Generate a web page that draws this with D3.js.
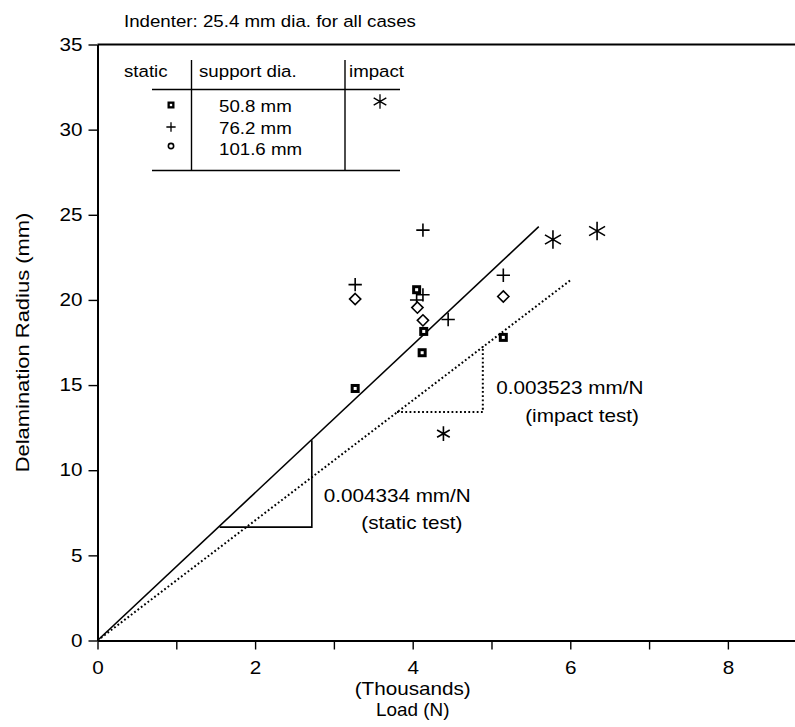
<!DOCTYPE html>
<html><head><meta charset="utf-8">
<script src="https://cdn.jsdelivr.net/npm/d3@7"></script>
<style>
body{margin:0;background:#fff}
svg text{font-family:"Liberation Sans",Arial,Helvetica,sans-serif;fill:#000}
</style>
</head><body>
<svg id="chart" width="795" height="727"></svg>
<script>
// ---- data (load in thousands of N, radius in mm) ----
const squareLoad   = [3.27, 4.05, 4.14, 4.12, 5.15];
const squareRadius = [14.8, 20.6, 18.15, 16.9, 17.8];
const plusLoad     = [3.27, 4.13, 4.13, 4.05, 4.45, 5.15];
const plusRadius   = [20.9, 24.1, 20.3, 20.0, 18.85, 21.45];
const diamondLoad  = [3.27, 4.06, 4.13, 5.15];
const diamondRadius= [20.05, 19.55, 18.8, 20.2];
const impactLoad   = [4.39, 5.78, 6.34];
const impactRadius = [12.15, 23.55, 24.05];
const impactSize   = [150, 240, 240];
const staticFit    = [[0, 0], [5.6, 24.3]];
const impactFit    = [[0, 0], [6.0, 21.15]];
const staticTri    = [[1.55, 6.66], [2.72, 6.66], [2.72, 11.76]];
const impactTri    = [[3.80, 13.42], [4.89, 13.42], [4.89, 17.3]];
const xTickValues  = [0, 1, 2, 3, 4, 5, 6, 7, 8];
const yTickValues  = [0, 5, 10, 15, 20, 25, 30, 35];
const legendRows   = ["50.8 mm", "76.2 mm", "101.6 mm"];

const svg = d3.select("#chart");
const x = d3.scaleLinear().domain([0, 8.9]).range([97.5, 798.8]);
const y = d3.scaleLinear().domain([0, 35]).range([640.5, 44.5]);
const FS = 18;
const SX = 1.15; // horizontal widening of the scanned lettering

function wtext(g, px, py, str, anchor, opt) {
  opt = opt || {};
  const sx = opt.sx || SX, fs = opt.fs || FS;
  return g.append("text")
    .attr("transform", `translate(${px},${py})${opt.rot ? ` rotate(${opt.rot})` : ""} scale(${sx},1)`)
    .attr("text-anchor", anchor || "start").attr("font-size", fs).text(str);
}

// axes
const xAxis = svg.append("g").attr("transform", `translate(0,${y(0)})`)
  .call(d3.axisBottom(x).tickValues(xTickValues).tickSize(9).tickSizeOuter(0).tickPadding(12)
    .tickFormat(d => d % 2 === 0 ? d : ""));
const yAxis = svg.append("g").attr("transform", `translate(${x(0)},0)`)
  .call(d3.axisLeft(y).tickValues(yTickValues).tickSize(9).tickSizeOuter(0).tickPadding(6));
[xAxis, yAxis].forEach(a => {
  a.selectAll("path.domain").attr("stroke", "#000").attr("stroke-width", 2);
  a.selectAll(".tick line").attr("stroke", "#000").attr("stroke-width", 1.4);
  a.selectAll(".tick text").attr("font-size", FS).attr("font-family", '"Liberation Sans",Arial,sans-serif').attr("fill", "#000");
});
xAxis.selectAll(".tick text").attr("transform", `scale(${SX},1)`);
yAxis.selectAll(".tick text").attr("x", -15 / SX).attr("transform", `scale(${SX},1)`);

// top frame line
svg.append("line").attr("x1", x(0)).attr("x2", 795).attr("y1", y(35)).attr("y2", y(35))
  .attr("stroke", "#000").attr("stroke-width", 2);

// titles
wtext(svg, 124, 27, "Indenter: 25.4 mm dia. for all cases", "start", {fs: 17, sx: 1.1});
wtext(svg, 29, (y(0) + y(35)) / 2, "Delamination Radius (mm)", "middle", {rot: -90, sx: 1.22});
wtext(svg, x(4), 695, "(Thousands)", "middle");
wtext(svg, x(4), 716, "Load (N)", "middle", {sx: 1.05});

// fit lines
const line = d3.line().x(d => x(d[0])).y(d => y(d[1]));
svg.append("path").attr("d", line(staticFit)).attr("fill", "none").attr("stroke", "#000").attr("stroke-width", 1.6);
svg.append("path").attr("d", line(impactFit)).attr("fill", "none").attr("stroke", "#000").attr("stroke-width", 2)
  .attr("stroke-dasharray", "1.8,2.4");
svg.append("path").attr("d", line(staticTri)).attr("fill", "none").attr("stroke", "#000").attr("stroke-width", 1.6);
svg.append("path").attr("d", line(impactTri)).attr("fill", "none").attr("stroke", "#000").attr("stroke-width", 2)
  .attr("stroke-dasharray", "1.8,2.4");

// annotations
wtext(svg, x(5.06), y(14.5), "0.003523 mm/N", "start");
wtext(svg, x(6.15), y(12.85), "(impact test)", "middle");
wtext(svg, x(2.87), y(8.15), "0.004334 mm/N", "start");
wtext(svg, x(3.99), y(6.55), "(static test)", "middle");

// markers
function squares(g, pts, s) {
  g.selectAll(null).data(pts).join("rect")
    .attr("x", d => d[0] - s / 2).attr("y", d => d[1] - s / 2).attr("width", s).attr("height", s)
    .attr("fill", "#000");
  g.selectAll(null).data(pts).join("rect")
    .attr("x", d => d[0] - s / 6).attr("y", d => d[1] - s / 6).attr("width", s / 3).attr("height", s / 3)
    .attr("fill", "#fff");
}
const gM = svg.append("g");
squares(gM, squareLoad.map((v, i) => [x(v), y(squareRadius[i])]), 9);
gM.selectAll(null).data(plusLoad).join("path")
  .attr("transform", (d, i) => `translate(${x(d)},${y(plusRadius[i])})`)
  .attr("d", d3.symbol().type(d3.symbolPlus).size(60)()).attr("fill", "none").attr("stroke", "#000").attr("stroke-width", 1.6);
gM.selectAll(null).data(diamondLoad).join("path")
  .attr("transform", (d, i) => `translate(${x(d)},${y(diamondRadius[i])})`)
  .attr("d", d3.symbol().type(d3.symbolDiamond2).size(80)()).attr("fill", "#fff").attr("stroke", "#000").attr("stroke-width", 1.6);
gM.selectAll(null).data(impactLoad).join("path")
  .attr("transform", (d, i) => `translate(${x(d)},${y(impactRadius[i])})`)
  .attr("d", (d, i) => d3.symbol().type(d3.symbolAsterisk).size(impactSize[i])()).attr("fill", "none")
  .attr("stroke", "#000").attr("stroke-width", 1.6);

// legend table
const lg = svg.append("g");
const ls = (x1, y1, x2, y2, w) => lg.append("line").attr("x1", x1).attr("y1", y1).attr("x2", x2).attr("y2", y2)
  .attr("stroke", "#000").attr("stroke-width", w);
ls(152, 89.5, 400, 89.5, 1.6);
ls(152, 170.5, 400, 170.5, 1.6);
ls(191.5, 60, 191.5, 170.5, 1.4);
ls(345, 60, 345, 170.5, 1.4);
const LO = {fs: 17, sx: 1.1};
wtext(lg, 124, 77, "static", "start", LO);
wtext(lg, 199, 77, "support dia.", "start", LO);
wtext(lg, 349, 77, "impact", "start", LO);
const rowY = [105, 127, 148];
legendRows.forEach((t, i) => wtext(lg, 219, rowY[i] + 6.5, t, "start", LO));
squares(lg, [[171, rowY[0]]], 7);
lg.append("path").attr("transform", `translate(171,${rowY[1]})`).attr("d", d3.symbol().type(d3.symbolPlus).size(30)())
  .attr("fill", "none").attr("stroke", "#000").attr("stroke-width", 1.3);
lg.append("path").attr("transform", `translate(171,${rowY[2] - 2})`).attr("d", d3.symbol().type(d3.symbolCircle).size(22)())
  .attr("fill", "#fff").attr("stroke", "#000").attr("stroke-width", 1.6);
lg.append("path").attr("transform", `translate(380,101.5)`).attr("d", d3.symbol().type(d3.symbolAsterisk).size(150)())
  .attr("fill", "none").attr("stroke", "#000").attr("stroke-width", 1.3);
</script>
</body></html>
